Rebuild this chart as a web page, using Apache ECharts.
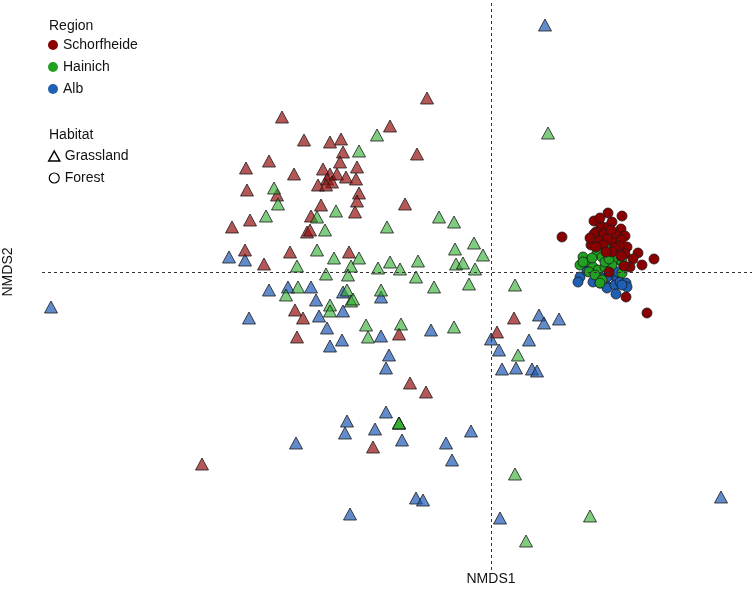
<!DOCTYPE html>
<html>
<head>
<meta charset="utf-8">
<title>NMDS</title>
<script src="https://cdn.jsdelivr.net/npm/echarts@6/dist/echarts.min.js"></script>
<style>
    html, body { margin: 0; padding: 0; background: #fff; }
    #chartArea { width: 754px; height: 589px; }
</style>
</head>
<body>
<div id="chartArea"></div>
<script>
// NMDS scores [NMDS1, NMDS2] per region and habitat
var schorfheideGrassland = [
    [-1.045, 0.775], [-0.935, 0.66], [-0.805, 0.65], [-0.75, 0.665], [-0.74, 0.6],
    [-1.11, 0.555], [-1.225, 0.52], [-0.755, 0.55], [-0.67, 0.525], [-0.84, 0.515],
    [-0.985, 0.49], [-0.805, 0.49], [-0.77, 0.49], [-0.725, 0.475], [-0.675, 0.465],
    [-0.82, 0.465], [-0.795, 0.45], [-0.865, 0.435], [-0.825, 0.435], [-1.22, 0.41],
    [-1.07, 0.385], [-0.66, 0.395], [-0.67, 0.355], [-0.85, 0.335], [-1.205, 0.26],
    [-0.9, 0.28], [-0.68, 0.3], [-1.295, 0.225], [-0.92, 0.2], [-0.905, 0.21],
    [-0.32, 0.87], [-0.505, 0.73], [-0.37, 0.59], [-0.43, 0.34], [-1.23, 0.11],
    [-1.005, 0.1], [-0.71, 0.1], [-1.135, 0.04], [-0.98, -0.19], [-0.94, -0.23],
    [-0.97, -0.325], [-0.46, -0.31], [0.03, -0.3], [0.115, -0.23], [-0.405, -0.555],
    [-0.325, -0.6], [-0.59, -0.875], [-1.445, -0.96]
];
var hainichGrassland = [
    [-0.66, 0.605], [-1.085, 0.42], [-1.065, 0.34], [-1.125, 0.28], [-0.87, 0.275],
    [-0.775, 0.305], [-0.83, 0.21], [-0.57, 0.685], [-0.52, 0.225], [-0.26, 0.275],
    [-0.185, 0.25], [-0.085, 0.145], [-0.87, 0.11], [-0.97, 0.03], [-0.785, 0.07],
    [-0.7, 0.03], [-0.66, 0.07], [-0.825, -0.01], [-0.715, -0.015], [-0.965, -0.075],
    [-1.025, -0.115], [-0.72, -0.09], [-0.805, -0.165], [-0.7, -0.145], [-0.69, -0.135],
    [-0.805, -0.195], [-0.565, 0.02], [-0.505, 0.05], [-0.455, 0.015], [-0.365, 0.055],
    [-0.375, -0.025], [-0.18, 0.115], [-0.04, 0.085], [-0.175, 0.04], [-0.14, 0.045],
    [-0.08, 0.015], [-0.285, -0.075], [-0.11, -0.06], [-0.55, -0.09], [-0.625, -0.265],
    [-0.45, -0.26], [-0.185, -0.275], [-0.615, -0.325], [0.12, -0.065], [0.135, -0.415],
    [0.285, 0.695], [0.12, -1.01], [0.495, -1.22], [0.175, -1.345],
    [-0.46, -0.755], [-0.46, -0.755], [-0.46, -0.755]
];
var albGrassland = [
    [-1.31, 0.075], [-1.23, 0.06], [-1.11, -0.09], [-1.015, -0.075], [-0.9, -0.075],
    [-0.74, -0.1], [-0.875, -0.14], [-0.74, -0.195], [-0.86, -0.22], [-1.21, -0.23],
    [-0.82, -0.28], [-0.745, -0.34], [-0.805, -0.37], [-0.55, -0.125], [-0.3, -0.29],
    [-0.55, -0.32], [0, -0.335], [-0.51, -0.415], [0.04, -0.39], [-0.525, -0.48],
    [0.24, -0.215], [0.265, -0.255], [0.34, -0.235], [0.19, -0.34], [0.055, -0.485],
    [0.125, -0.48], [0.205, -0.485], [0.23, -0.495], [-0.525, -0.7], [-0.72, -0.745],
    [-0.58, -0.785], [-0.73, -0.805], [-0.1, -0.795], [-0.445, -0.84], [-0.225, -0.855],
    [-0.195, -0.94], [-0.375, -1.13], [-0.34, -1.14], [-0.705, -1.21], [0.045, -1.23],
    [-0.975, -0.855], [1.15, -1.125], [-2.2, -0.175], [0.27, 1.235]
];
var schorfheideForest = [
    [0.585, 0.295], [0.655, 0.28], [0.515, 0.255], [0.55, 0.23], [0.585, 0.225],
    [0.65, 0.215], [0.525, 0.2], [0.565, 0.19], [0.625, 0.185], [0.67, 0.18],
    [0.355, 0.175], [0.515, 0.19], [0.61, 0.15], [0.65, 0.16], [0.58, 0.165],
    [0.54, 0.155], [0.5, 0.135], [0.56, 0.135], [0.525, 0.125], [0.68, 0.125],
    [0.64, 0.13], [0.62, 0.12], [0.605, 0.1], [0.575, 0.1], [0.67, 0.09],
    [0.735, 0.095], [0.65, 0.08], [0.71, 0.065], [0.695, 0.025], [0.665, 0.03],
    [0.755, 0.035], [0.815, 0.065], [0.59, 0], [0.675, -0.125], [0.78, -0.205],
    [0.545, 0.27], [0.605, 0.25], [0.495, 0.17], [0.6, 0.21]
];
var hainichForest = [
    [0.46, 0.075], [0.445, 0.035], [0.49, 0.05], [0.53, 0.095], [0.555, 0.075],
    [0.58, 0.11], [0.595, 0.085], [0.62, 0.06], [0.51, 0.025], [0.535, 0.01],
    [0.57, 0.025], [0.605, 0.035], [0.655, 0.05], [0.49, 0], [0.52, -0.015],
    [0.555, -0.04], [0.545, -0.055], [0.655, -0.005], [0.57, 0.05], [0.505, 0.07],
    [0.46, 0.05], [0.59, 0.065]
];
var albForest = [
    [0.445, -0.025], [0.435, -0.05], [0.48, 0.005], [0.51, -0.05], [0.545, -0.055],
    [0.575, -0.065], [0.58, -0.08], [0.61, -0.015], [0.63, -0.04], [0.62, -0.065],
    [0.645, -0.05], [0.675, -0.055], [0.68, -0.075], [0.655, -0.065], [0.625, -0.11],
    [0.605, 0.01], [0.635, 0], [0.58, -0.025], [0.495, 0.035], [0.545, -0.025]
];

var regionNames = ['Schorfheide', 'Hainich', 'Alb'];
var regionColors = ['#8b0000', '#22a022', '#1f5fb4'];
var grassFill = ['rgba(150,15,15,0.7)', 'rgba(40,170,40,0.6)', 'rgba(30,90,180,0.7)'];
var habitatNames = ['Grassland', 'Forest'];

var fontFamily = "'Liberation Sans', Arial, Helvetica, sans-serif";
var dom = document.getElementById('chartArea');
var myChart = echarts.init(dom, null, {renderer: 'canvas'});

//三角形 = 草地
function grassSeries(name, data, fill) {
    return {
        name: name,
        type: 'scatter',
        symbol: 'triangle',
        symbolSize: [13, 12],
        data: data,
        z: 3,
        itemStyle: {color: fill, borderColor: '#1a1a1a', borderWidth: 0.8, opacity: 1},
        emphasis: {disabled: true}
    };
}

//圆形 = 森林
function forestSeries(name, data, color) {
    return {
        name: name,
        type: 'scatter',
        symbol: 'circle',
        symbolSize: 10,
        data: data,
        z: 4,
        itemStyle: {color: color, borderColor: '#1a1a1a', borderWidth: 0.8, opacity: 1},
        emphasis: {disabled: true}
    };
}

var series = [
    //零线
    {
        name: 'origin',
        type: 'scatter',
        data: [],
        z: 1,
        markLine: {
            silent: true,
            symbol: 'none',
            label: {show: false},
            lineStyle: {type: [3, 3], color: '#333', width: 1},
            data: [{xAxis: 0}, {yAxis: 0}]
        }
    },
    grassSeries('Alb grassland', albGrassland, grassFill[2]),
    grassSeries('Schorfheide grassland', schorfheideGrassland, grassFill[0]),
    grassSeries('Hainich grassland', hainichGrassland, grassFill[1]),
    forestSeries('Alb forest', albForest, regionColors[2]),
    forestSeries('Hainich forest', hainichForest, regionColors[1]),
    forestSeries('Schorfheide forest', schorfheideForest, regionColors[0])
];
//图例用的空系列
regionNames.forEach(function (n, i) {
    series.push({name: n, type: 'scatter', data: [], itemStyle: {color: regionColors[i], opacity: 1}});
});
habitatNames.forEach(function (n) {
    series.push({name: n, type: 'scatter', data: [], itemStyle: {color: '#fff', borderColor: '#000', opacity: 1}});
});

var regionLegend = regionNames.map(function (n, i) {
    return {name: n, icon: 'circle', itemStyle: {color: regionColors[i], borderWidth: 0, opacity: 1}};
});
var habitatLegend = [
    {name: 'Grassland', icon: 'triangle', itemStyle: {color: '#fff', borderColor: '#000', borderWidth: 1.5, opacity: 1}},
    {name: 'Forest', icon: 'circle', itemStyle: {color: '#fff', borderColor: '#000', borderWidth: 1.2, opacity: 1}}
];
var legendText = {fontSize: 14, color: '#111', fontFamily: fontFamily};

var option = {
    animation: false,
    backgroundColor: '#fff',
    textStyle: {fontFamily: fontFamily},
    title: [
        {text: 'Region', left: 49, top: 19, padding: 0, textStyle: {fontSize: 14, fontWeight: 'normal', color: '#111', fontFamily: fontFamily}},
        {text: 'Habitat', left: 49, top: 128, padding: 0, textStyle: {fontSize: 14, fontWeight: 'normal', color: '#111', fontFamily: fontFamily}}
    ],
    legend: [
        {
            orient: 'vertical', left: 48, top: 38, padding: 0, itemGap: 8,
            itemWidth: 10, itemHeight: 10, selectedMode: false,
            textStyle: legendText, data: regionLegend
        },
        {
            orient: 'vertical', left: 48, top: 149, padding: 0, itemGap: 8,
            itemWidth: 11, itemHeight: 10, selectedMode: false,
            textStyle: legendText, data: habitatLegend
        }
    ],
    grid: {left: 42, right: 2, top: 0, bottom: 19},
    xAxis: {
        type: 'value', min: -2.245, max: 1.305,
        axisLine: {show: false}, axisTick: {show: false},
        axisLabel: {show: false}, splitLine: {show: false}
    },
    yAxis: {
        type: 'value', min: -1.49, max: 1.36,
        axisLine: {show: false}, axisTick: {show: false},
        axisLabel: {show: false}, splitLine: {show: false}
    },
    series: series
};
myChart.setOption(option);

//轴标题放在零点处
var zero = myChart.convertToPixel({gridIndex: 0}, [0, 0]);
myChart.setOption({
    graphic: [
        {
            type: 'text', x: zero[0], y: 572,
            style: {text: 'NMDS1', fontSize: 14, fill: '#111', fontFamily: fontFamily, align: 'center', verticalAlign: 'top'}
        },
        {
            type: 'text', x: 8, y: zero[1], rotation: Math.PI / 2,
            style: {text: 'NMDS2', fontSize: 14, fill: '#111', fontFamily: fontFamily, align: 'center', verticalAlign: 'middle'}
        }
    ]
});
</script>
</body>
</html>
